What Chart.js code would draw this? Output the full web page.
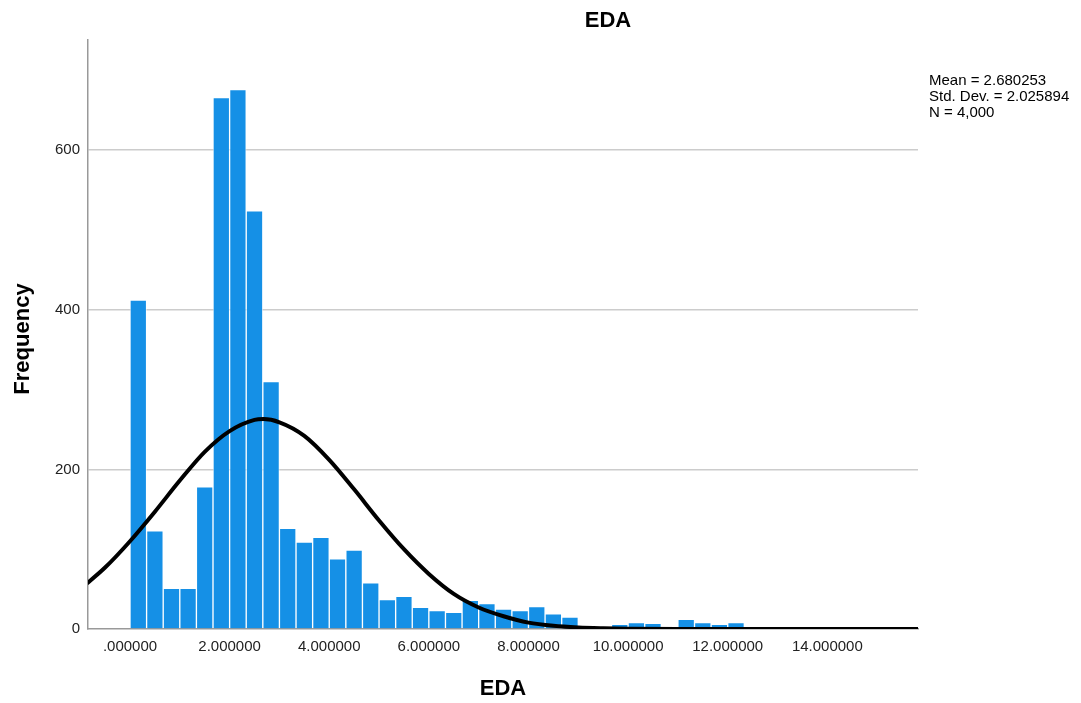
<!DOCTYPE html>
<html>
<head>
<meta charset="utf-8">
<title>EDA histogram</title>
<script src="https://cdn.jsdelivr.net/npm/chart.js@4.4.1/dist/chart.umd.min.js"></script>
<style>
  html, body { margin: 0; padding: 0; background: #fff; }
  #wrap { width: 1081px; height: 703px; }
</style>
</head>
<body>
<div id="wrap"><canvas id="hist" width="1081" height="703"></canvas></div>
<script>
'use strict';

/* ── data ── */
const BIN_WIDTH = 1 / 3;                 // each bar spans a third of a unit, starting at 0
const binCounts = [
  412, 123, 51, 51, 178, 666, 676, 524, 310, 126,
  109, 115, 88, 99, 58, 37, 41, 27, 23, 21,
  36, 32, 25, 23, 28, 19, 15, 3, 2, 6,
  8, 7, 2, 12, 8, 6, 8, 1, 2
];

// fitted normal curve, read at half-unit steps (plus its peak)
const curveX = [
  -1, -0.5, 0, 0.5, 1, 1.5, 2, 2.5, 2.68, 3, 3.5, 4, 4.5, 5, 5.5, 6, 6.5,
  7, 7.5, 8, 8.5, 9, 9.5, 10, 11, 12, 13, 14, 15, 16
];
const curveY = [
  50, 77, 110, 147, 186, 222, 248, 262, 263, 259, 242, 212, 175, 136, 100, 69, 44,
  27, 16, 8, 4, 2, 1, 0.4, 0, 0, 0, 0, 0, 0
];

const statLines = ['Mean = 2.680253', 'Std. Dev. = 2.025894', 'N = 4,000'];
const xTickStep = 2;
const yTickStep = 200;

/* ── helpers ── */
const FONT = "'Liberation Sans', Arial, sans-serif";

function xTickLabel(v) {
  return v === 0 ? '.000000' : v.toFixed(6);
}

// titles + stats box, drawn after everything else
const textPlugin = {
  id: 'spssText',
  afterDraw(chart) {
    const { ctx } = chart;
    ctx.save();
    ctx.fillStyle = '#000';
    ctx.textBaseline = 'middle';

    ctx.font = `bold 22px ${FONT}`;
    ctx.textAlign = 'center';
    ctx.fillText('EDA', 608, 21);
    ctx.fillText('EDA', 503, 689);

    ctx.save();
    ctx.translate(23, 339);
    ctx.rotate(-Math.PI / 2);
    ctx.fillText('Frequency', 0, 0);
    ctx.restore();

    ctx.font = `15px ${FONT}`;
    ctx.textAlign = 'left';
    statLines.forEach((line, i) => ctx.fillText(line, 929, 81 + i * 16));
    ctx.restore();
  },
};

const barData = binCounts.map((c, i) => ({ x: (i + 0.5) * BIN_WIDTH, y: c }));
const lineData = curveX.map((x, i) => ({ x, y: curveY[i] }));

new Chart(document.getElementById('hist').getContext('2d'), {
  type: 'bar',
  data: {
    datasets: [
      {
        type: 'line',
        data: lineData,
        borderColor: '#000',
        borderWidth: 4,
        pointRadius: 0,
        cubicInterpolationMode: 'monotone',
        fill: false,
        order: 0,
      },
      {
        type: 'bar',
        data: barData,
        backgroundColor: '#1590e6',
        borderColor: 'rgba(255,255,255,0.55)',
        borderWidth: 1,
        barPercentage: 1,
        categoryPercentage: 1,
        grouped: false,
        order: 1,
      },
    ],
  },
  options: {
    responsive: false,
    animation: false,
    events: [],
    layout: { padding: { left: 0, top: 40, right: 163, bottom: 0 } },
    plugins: { legend: { display: false }, tooltip: { enabled: false } },
    scales: {
      x: {
        type: 'linear',
        min: -0.843,
        max: 15.82,
        offset: false,
        afterFit(scale) { scale.height = 74; },
        grid: { display: false, offset: false, drawTicks: false },
        border: { display: true, color: '#999', width: 1.5 },
        ticks: {
          stepSize: xTickStep,
          includeBounds: false,
          maxRotation: 0,
          autoSkip: false,
          padding: 9,
          color: '#222',
          font: { family: FONT, size: 15 },
          callback: xTickLabel,
        },
      },
      y: {
        min: 0,
        max: 738,
        afterFit(scale) { scale.width = 88; },
        grid: {
          drawTicks: false,
          lineWidth: 1.5,
          color: ctx => (ctx.tick && ctx.tick.value === 0 ? 'rgba(0,0,0,0)' : '#cccccc'),
        },
        border: { display: true, color: '#999', width: 1.5 },
        ticks: {
          stepSize: yTickStep,
          includeBounds: false,
          padding: 8,
          color: '#222',
          font: { family: FONT, size: 15 },
        },
      },
    },
  },
  plugins: [textPlugin],
});
</script>
</body>
</html>
